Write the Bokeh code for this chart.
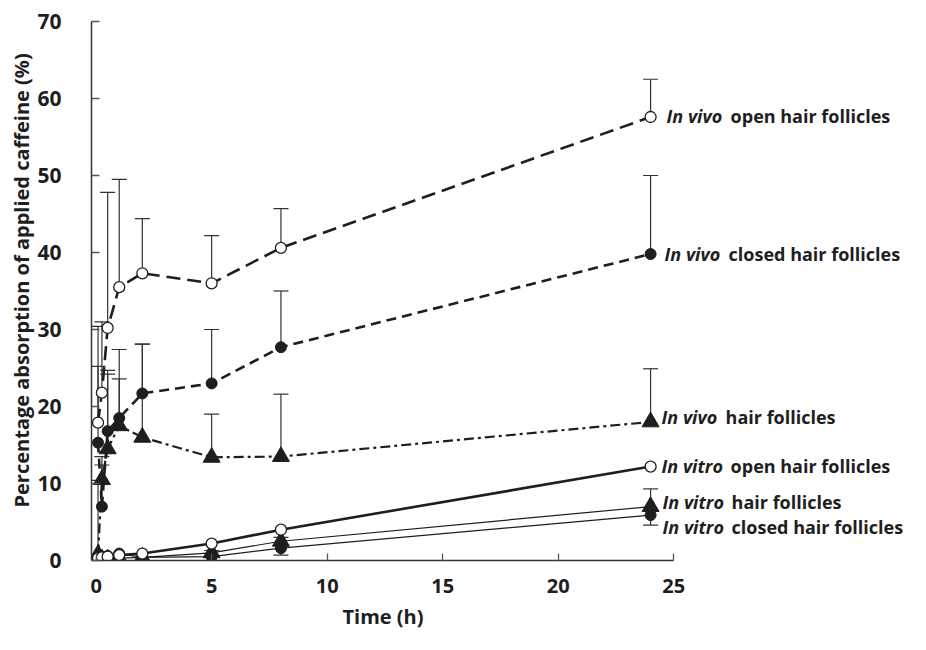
from bokeh.plotting import figure
from bokeh.models import Range1d, FixedTicker, Title
from bokeh.core.properties import value
from bokeh.embed import file_html
from bokeh.resources import INLINE

# ---------------- data ----------------
t = [0.083, 0.25, 0.5, 1, 2, 5, 8, 24]
x_ticks = [0, 5, 10, 15, 20, 25]
y_ticks = [0, 10, 20, 30, 40, 50, 60, 70]

vivo_open = [17.9, 21.8, 30.2, 35.5, 37.3, 36.0, 40.6, 57.6]
vivo_open_sd = [12.5, 9.2, 17.6, 14.0, 7.1, 6.2, 5.1, 4.9]

vivo_closed = [15.3, 7.0, 16.8, 18.5, 21.7, 23.0, 27.7, 39.8]
vivo_closed_sd = [9.9, 5.4, 7.4, 8.9, 6.4, 7.0, 7.3, 10.2]

vivo_hf = [0.8, 10.5, 14.5, 17.5, 16.0, 13.4, 13.5, 18.0]
vivo_hf_sd = [9.6, 3.0, 10.2, 6.1, 12.1, 5.6, 8.1, 6.9]

vitro_open = [0.3, 0.4, 0.5, 0.7, 0.9, 2.2, 4.0, 12.2]
vitro_open_sd = [0.0, 0.0, 0.0, 0.0, 0.0, 0.0, 0.0, 0.0]

vitro_hf = [0.1, 0.2, 0.2, 0.3, 0.4, 1.0, 2.5, 7.0]
vitro_hf_sd = [0.0, 0.0, 0.0, 0.0, 0.0, 0.3, 0.5, 2.3]

vitro_closed = [0.3, 0.5, 0.6, 0.9, 0.4, 0.5, 1.6, 5.9]
vitro_closed_sd = [0.0, 0.0, 0.0, 0.0, 0.0, 0.0, 0.9, 1.3]

labels_italic = ["In vivo", "In vivo", "In vivo", "In vitro", "In vitro", "In vitro"]
labels_rest = ["open hair follicles", "closed hair follicles", "hair follicles",
               "open hair follicles", "hair follicles", "closed hair follicles"]

x_label = "Time (h)"
y_label = "Percentage absorption of applied caffeine (%)"

# ---------------- figure ----------------
INK = "#1e1e1e"
FONT = "Open Sans"

p = figure(width=910, height=634, output_backend="svg", toolbar_location=None,
           x_range=Range1d(-0.2, 35.25), y_range=Range1d(0, 70),
           min_border_left=91, min_border_right=0, min_border_top=21, min_border_bottom=71)
p.outline_line_color = None
p.grid.visible = False
p.background_fill_color = "white"

p.xaxis.bounds = (-0.2, 25)
p.yaxis.bounds = (0, 70)
p.xaxis.ticker = FixedTicker(ticks=x_ticks)
p.yaxis.ticker = FixedTicker(ticks=y_ticks)
for ax in (p.xaxis, p.yaxis):
    ax.axis_line_color = "#333333"
    ax.axis_line_width = 1.5
    ax.major_tick_line_color = "#555555"
    ax.major_tick_line_width = 1.3
    ax.major_tick_out = 0
    ax.minor_tick_line_color = None
    ax.major_label_text_font = FONT
    ax.major_label_text_font_style = "bold"
    ax.major_label_text_font_size = "21px"
    ax.major_label_text_color = INK
p.xaxis.major_label_text_font_size = "20px"
p.xaxis.major_tick_in = 7
p.yaxis.major_tick_in = 8
p.xaxis.major_label_standoff = 18
p.yaxis.major_label_standoff = 30

# axis titles as side titles so that they can sit where the reference puts them
p.add_layout(Title(text=x_label, align="left", offset=251, standoff=10,
                   text_font=FONT, text_font_style="bold", text_font_size="20px",
                   text_color=INK), "below")
p.add_layout(Title(text=y_label, align="left", offset=53, standoff=0,
                   text_font=FONT, text_font_style="bold", text_font_size="20px",
                   text_color=INK), "left")


def errbars(xs, ys, sds, up=True):
    tops = [y + s if up else y - s for y, s in zip(ys, sds)]
    keep = [i for i, s in enumerate(sds) if s > 0]
    x0 = [xs[i] for i in keep]
    y0 = [ys[i] for i in keep]
    y1 = [tops[i] for i in keep]
    p.segment(x0=x0, y0=y0, x1=x0, y1=y1, line_color="#333333", line_width=1.2)
    p.scatter(x=x0, y=y1, marker="dash", size=15, line_color="#333333", line_width=1.2)


errbars(t, vivo_open, vivo_open_sd)
errbars(t, vivo_closed, vivo_closed_sd)
errbars(t, vivo_hf, vivo_hf_sd)
errbars(t, vitro_open, vitro_open_sd)
errbars(t, vitro_hf, vitro_hf_sd)
errbars(t, vitro_closed, vitro_closed_sd, up=False)

# lines
p.line(t, vivo_open, line_color=INK, line_width=2.6, line_dash="14 7")
p.line(t, vivo_closed, line_color=INK, line_width=2.6, line_dash="10 6")
p.line(t, vivo_hf, line_color=INK, line_width=2.2, line_dash="10 4 3 4")
p.line(t, vitro_open, line_color=INK, line_width=2.6)
p.line(t, vitro_hf, line_color=INK, line_width=1.2)
p.line(t, vitro_closed, line_color=INK, line_width=1.2)

# markers
p.scatter(t, vivo_hf, marker="triangle", size=17, fill_color=INK, line_color=INK)
p.scatter(t, vitro_hf, marker="triangle", size=17, fill_color=INK, line_color=INK)
p.scatter(t, vivo_closed, marker="circle", size=11, fill_color=INK, line_color=INK)
p.scatter(t, vitro_closed, marker="circle", size=11, fill_color=INK, line_color=INK)
p.scatter(t, vivo_open, marker="circle", size=11, fill_color="white", line_color=INK, line_width=1.3)
p.scatter(t, vitro_open, marker="circle", size=11, fill_color="white", line_color=INK, line_width=1.3)

# end labels
ends = [vivo_open[-1], vivo_closed[-1], vivo_hf[-1], vitro_open[-1], vitro_hf[-1], vitro_closed[-1]]
x_off = [16, 14, 11, 11, 12, 12]
y_off = [-1, 0, -5, -1, -5, 12]
rest_off = [64, 64, 64, 69, 69, 69]
for i in range(6):
    p.text(x=[t[-1]], y=[ends[i]], text=[labels_italic[i]], x_offset=x_off[i], y_offset=y_off[i],
           text_font=value(FONT), text_font_style="bold italic", text_font_size="18px",
           text_baseline="middle", text_color=INK)
    p.text(x=[t[-1]], y=[ends[i]], text=[labels_rest[i]], x_offset=x_off[i] + rest_off[i],
           y_offset=y_off[i],
           text_font=value(FONT), text_font_style="bold", text_font_size="18px",
           text_baseline="middle", text_color=INK)

open("out.html", "w").write(file_html(p, INLINE))
